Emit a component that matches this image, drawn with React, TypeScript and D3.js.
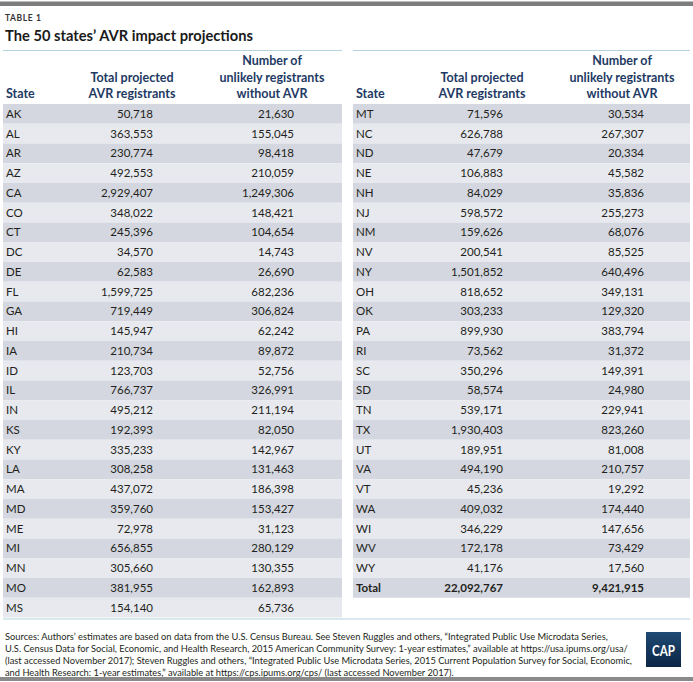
import React from "react";
import * as d3 from "d3";

const states = ["AK","AL","AR","AZ","CA","CO","CT","DC","DE","FL","GA","HI","IA","ID","IL","IN","KS","KY","LA","MA","MD","ME","MI","MN","MO","MS","MT","NC","ND","NE","NH","NJ","NM","NV","NY","OH","OK","PA","RI","SC","SD","TN","TX","UT","VA","VT","WA","WI","WV","WY"];
const projected = [50718,363553,230774,492553,2929407,348022,245396,34570,62583,1599725,719449,145947,210734,123703,766737,495212,192393,335233,308258,437072,359760,72978,656855,305660,381955,154140,71596,626788,47679,106883,84029,598572,159626,200541,1501852,818652,303233,899930,73562,350296,58574,539171,1930403,189951,494190,45236,409032,346229,172178,41176];
const unlikely = [21630,155045,98418,210059,1249306,148421,104654,14743,26690,682236,306824,62242,89872,52756,326991,211194,82050,142967,131463,186398,153427,31123,280129,130355,162893,65736,30534,267307,20334,45582,35836,255273,68076,85525,640496,349131,129320,383794,31372,149391,24980,229941,823260,81008,210757,19292,174440,147656,73429,17560];
const totalLabel = "Total";
const totalProjected = 22092767;
const totalUnlikely = 9421915;
const headerCol2 = ["Total projected", "AVR registrants"];
const headerCol3 = ["Number of", "unlikely registrants", "without AVR"];
const sourceLines = [
  "Sources: Authors\u2019 estimates are based on data from the U.S. Census Bureau. See Steven Ruggles and others, \u201CIntegrated Public Use Microdata Series,",
  "U.S. Census Data for Social, Economic, and Health Research, 2015 American Community Survey: 1-year estimates,\u201D available at https://usa.ipums.org/usa/",
  "(last accessed November 2017); Steven Ruggles and others, \u201CIntegrated Public Use Microdata Series, 2015 Current Population Survey for Social, Economic,",
  "and Health Research: 1-year estimates,\u201D available at https://cps.ipums.org/cps/ (last accessed November 2017).",
];

const W = 693, H = 682;
const FONT = "Lato, 'Open Sans', sans-serif";
const fmt = d3.format(",");
const rowTop = 104;
const rowH = 19.75;
const dark = "#d4d7df";
const light = "#e7e9ee";
const navy = "#1e3a64";
const txt = "#231f20";

type Row = { state: string; p: number; u: number; bold?: boolean };

function Table({ rows, x0, width }: { rows: Row[]; x0: number; width: number }) {
  const y = d3.scaleLinear().domain([0, 1]).range([rowTop, rowTop + rowH]);
  const stateX = x0 + 3;
  const c2 = x0 + 150;
  const c3 = x0 + 291;
  const h2 = x0 + 129;
  const h3 = x0 + 269;
  const hb = [65, 81.5, 98];
  return (
    <g>
      <line x1={x0} x2={x0 + width} y1={50.5} y2={50.5} stroke="#b3d3e0" strokeWidth={1} />
      <text x={stateX} y={hb[2]} fill={navy} fontSize={12.5} fontWeight={700} fontFamily={FONT}>State</text>
      {headerCol2.map((t, i) => (
        <text key={t} x={h2} y={hb[i + 1]} textAnchor="middle" fill={navy} fontSize={12.5} fontWeight={700} fontFamily={FONT}>{t}</text>
      ))}
      {headerCol3.map((t, i) => (
        <text key={t} x={h3} y={hb[i]} textAnchor="middle" fill={navy} fontSize={12.5} fontWeight={700} fontFamily={FONT}>{t}</text>
      ))}
      {rows.map((r, i) => {
        const top = y(i);
        const by = top + rowH / 2 + 4;
        const fw = r.bold ? 700 : 400;
        return (
          <g key={r.state}>
            <rect x={x0} y={top} width={width} height={rowH} fill={i % 2 === 0 ? dark : light} />
            <text x={stateX} y={by} fill={txt} fontSize={11.5} fontWeight={fw} fontFamily={FONT}>{r.state}</text>
            <text x={c2} y={by} textAnchor="end" fill={txt} fontSize={11.5} fontWeight={fw} fontFamily={FONT}>{fmt(r.p)}</text>
            <text x={c3} y={by} textAnchor="end" fill={txt} fontSize={11.5} fontWeight={fw} fontFamily={FONT}>{fmt(r.u)}</text>
          </g>
        );
      })}
    </g>
  );
}

export default function App() {
  const all: Row[] = states.map((s, i) => ({ state: s, p: projected[i], u: unlikely[i] }));
  const left = all.slice(0, 26);
  const right = [...all.slice(26), { state: totalLabel, p: totalProjected, u: totalUnlikely, bold: true }];
  return (
    <svg width={W} height={H} style={{ position: "absolute", left: 0, top: 0, background: "#fff" }}>
      <defs>
        <linearGradient id="capg" x1="0" y1="0" x2="0" y2="1">
          <stop offset="0" stopColor="#1f4a73" />
          <stop offset="1" stopColor="#0c2545" />
        </linearGradient>
      </defs>
      <rect x={0} y={0} width={W} height={H} fill="#fff" />
      <rect x={0} y={1.5} width={W} height={4.5} fill="#7d7d7d" />
      <text x={5} y={21} fill="#333" fontSize={8.5} fontWeight={700} letterSpacing={0.6} fontFamily={FONT}>TABLE 1</text>
      <text x={5} y={40.5} fill="#1a1a1a" fontSize={15.5} fontWeight={700} fontFamily={FONT} textLength={248} lengthAdjust="spacingAndGlyphs">The 50 states’ AVR impact projections</text>
      <Table rows={left} x0={3} width={339} />
      <Table rows={right} x0={353} width={337} />
      <line x1={3} x2={690} y1={619} y2={619} stroke="#b3d3e0" strokeWidth={1} />
      {sourceLines.map((t, i) => (
        <text key={i} x={5} y={640 + i * 12} fill={txt} fontSize={9.3} fontFamily={FONT}>{t}</text>
      ))}
      <rect x={646} y={632} width={35} height={35} fill="url(#capg)" />
      <text x={663.5} y={655.5} textAnchor="middle" fill="#fff" fontSize={15} fontWeight={700} fontFamily={FONT} textLength={23} lengthAdjust="spacingAndGlyphs">CAP</text>
      <rect x={0} y={677} width={W} height={4} fill="#8a8a8a" />
    </svg>
  );
}
